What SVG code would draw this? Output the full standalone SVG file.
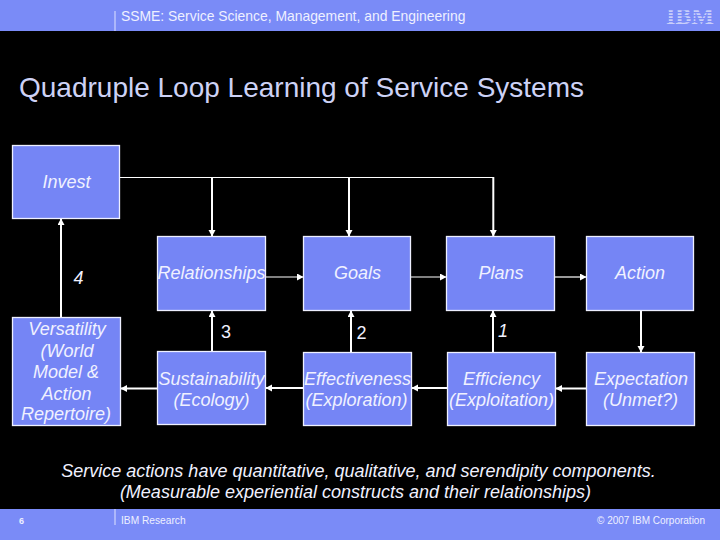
<svg xmlns="http://www.w3.org/2000/svg" width="720" height="540" viewBox="0 0 720 540">
<style>
.band{fill:#7a8bf7}
.box{fill:#7585f5;stroke:#eef0ff;stroke-width:1.3}
.t{font-family:"Liberation Sans",Arial,sans-serif;font-style:italic;font-size:18px;fill:#f0f1ff;text-anchor:middle}
.w{fill:none;stroke:#fff;stroke-width:1.2}
.b{fill:none;stroke:#fff;stroke-width:2}
.h{font-family:"Liberation Sans",Arial,sans-serif;fill:#eef0ff}
.sep{stroke:#dfe3ff;stroke-width:1}
</style>
<defs>
<marker id="a" markerUnits="userSpaceOnUse" markerWidth="8" markerHeight="8" refX="6" refY="3.5" orient="auto"><path d="M0 0L6.500 3.500L0 7Z" fill="#fff"/></marker>
</defs>
<rect width="720" height="540" fill="#000"/>
<g id="header">
<rect class="band" width="720" height="31"/>
<line class="sep" x1="115" y1="11" x2="115" y2="31"/>
<text class="h" x="121" y="21" font-size="13.9">SSME: Service Science, Management, and Engineering</text>
<text x="690" y="24" text-anchor="middle" font-family="Liberation Serif,serif" font-weight="bold" font-size="23" textLength="48" lengthAdjust="spacingAndGlyphs" fill="#c9cffa">IBM</text>
<g fill="#7a8bf7"><rect x="664" y="9" width="52" height="1.200"/><rect x="664" y="12" width="52" height="1.200"/><rect x="664" y="15" width="52" height="1.200"/><rect x="664" y="18" width="52" height="1.200"/><rect x="664" y="21" width="52" height="1.200"/></g>
</g>
<text id="title" x="19" y="97" font-family="Liberation Sans,Arial,sans-serif" font-size="28" fill="#cdd2f6">Quadruple Loop Learning of Service Systems</text>
<g id="connectors">
<path class="w" d="M119.500 177.500H493.300"/>
<path class="b" d="M212 177.500V236" marker-end="url(#a)"/>
<path class="b" d="M349 177.500V236" marker-end="url(#a)"/>
<path class="b" d="M493.300 177V236" marker-end="url(#a)"/>
<path class="b" d="M61 317V219" marker-end="url(#a)"/>
<path class="w" d="M265.500 277H303" marker-end="url(#a)"/>
<path class="w" d="M411 277H446" marker-end="url(#a)"/>
<path class="w" d="M555 277H586" marker-end="url(#a)"/>
<path class="b" d="M641 310.500V352" marker-end="url(#a)"/>
<path class="b" d="M586 388.500H556" marker-end="url(#a)"/>
<path class="b" d="M447 388H412" marker-end="url(#a)"/>
<path class="b" d="M303.500 388H266" marker-end="url(#a)"/>
<path class="b" d="M157.500 388.500H121" marker-end="url(#a)"/>
<path class="b" d="M212 351V311" marker-end="url(#a)"/>
<path class="b" d="M351 352V311" marker-end="url(#a)"/>
<path class="b" d="M493 352V311" marker-end="url(#a)"/>
</g>
<g id="invest"><rect class="box" x="12.500" y="145.500" width="107" height="73"/><text class="t" x="66.500" y="188">Invest</text></g>
<g id="relationships"><rect class="box" x="157.500" y="236.500" width="108" height="74"/><text class="t" x="211.500" y="279">Relationships</text></g>
<g id="goals"><rect class="box" x="303.500" y="236.500" width="107" height="74"/><text class="t" x="357.500" y="279">Goals</text></g>
<g id="plans"><rect class="box" x="446.500" y="236.500" width="108" height="74"/><text class="t" x="501" y="279">Plans</text></g>
<g id="action"><rect class="box" x="586.500" y="236.500" width="107" height="74"/><text class="t" x="640" y="279">Action</text></g>
<g id="versatility"><rect class="box" x="12.500" y="317.500" width="108" height="108"/><text class="t"><tspan x="67" y="335">Versatility</tspan><tspan x="67" y="356.500">(World</tspan><tspan x="66" y="378">Model &amp;</tspan><tspan x="66.500" y="399.500">Action</tspan><tspan x="66" y="420">Repertoire)</tspan></text></g>
<g id="sustainability"><rect class="box" x="157.500" y="351.500" width="108" height="73"/><text class="t"><tspan x="211.500" y="384.500">Sustainability</tspan><tspan x="211.500" y="405.500">(Ecology)</tspan></text></g>
<g id="effectiveness"><rect class="box" x="303.500" y="352.500" width="108" height="73"/><text class="t"><tspan x="357.500" y="384.500">Effectiveness</tspan><tspan x="356.500" y="405.500">(Exploration)</tspan></text></g>
<g id="efficiency"><rect class="box" x="447.500" y="352.500" width="108" height="73"/><text class="t"><tspan x="501.500" y="384.500">Efficiency</tspan><tspan x="501.500" y="405.500">(Exploitation)</tspan></text></g>
<g id="expectation"><rect class="box" x="586.500" y="352.500" width="108" height="73"/><text class="t"><tspan x="641" y="384.500">Expectation</tspan><tspan x="640.500" y="405.500">(Unmet?)</tspan></text></g>
<g id="labels">
<text class="t" x="78.500" y="284">4</text>
<text class="t" x="226" y="338" style="font-style:normal">3</text>
<text class="t" x="361.500" y="339" style="font-style:normal">2</text>
<text class="t" x="503" y="337">1</text>
</g>
<g id="caption">
<text class="t" x="358.500" y="477">Service actions have quantitative, qualitative, and serendipity components.</text>
<text class="t" x="355.500" y="498">(Measurable experiential constructs and their relationships)</text>
</g>
<g id="footer">
<rect class="band" y="509" width="720" height="31"/>
<line class="sep" x1="115" y1="509" x2="115" y2="525"/>
<text class="h" x="19" y="524" font-size="9" font-weight="bold">6</text>
<text class="h" x="121" y="524" font-size="10.200">IBM Research</text>
<text class="h" x="705" y="524" font-size="10" text-anchor="end">© 2007 IBM Corporation</text>
</g>
</svg>
